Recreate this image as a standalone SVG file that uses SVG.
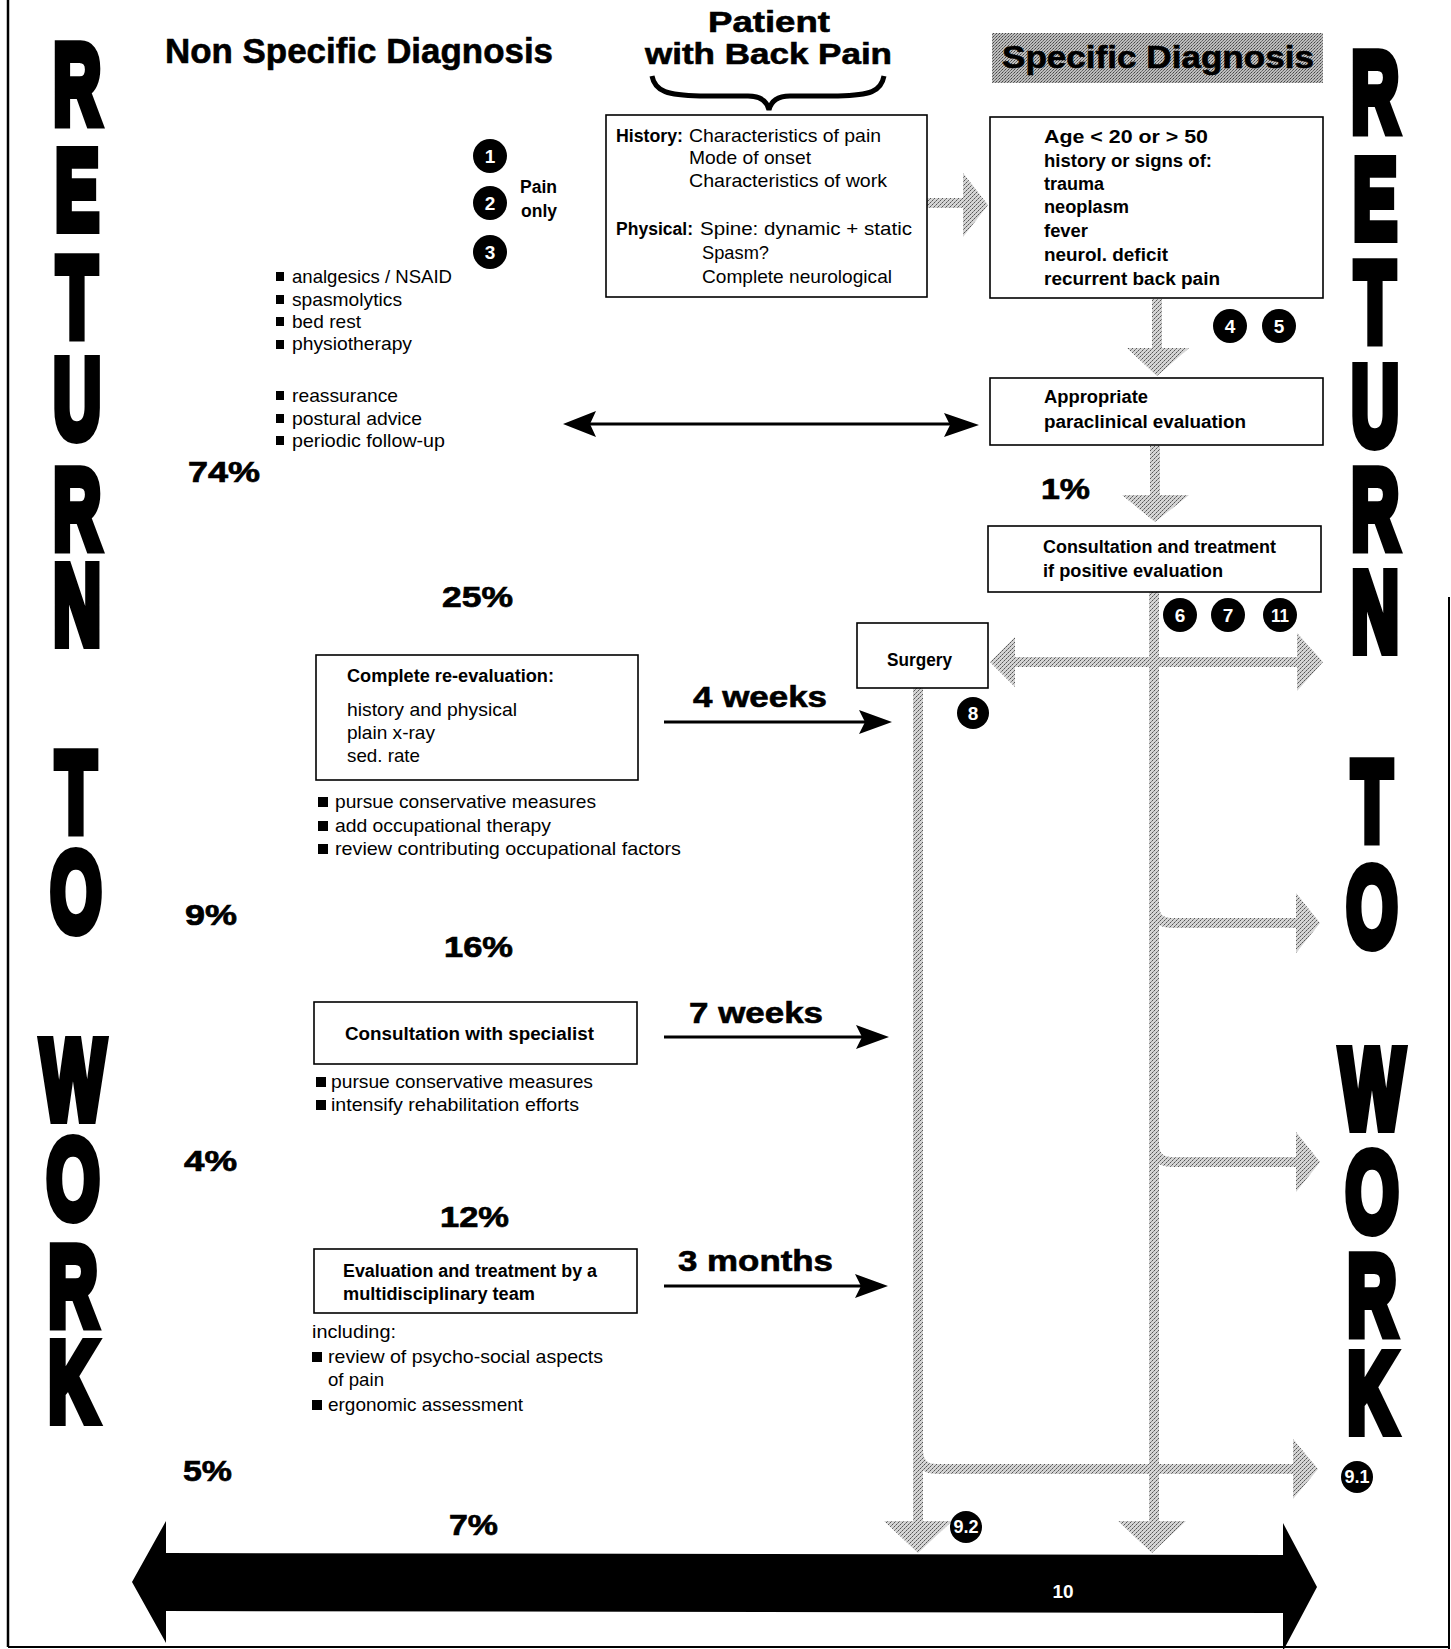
<svg xmlns="http://www.w3.org/2000/svg" width="1451" height="1649" viewBox="0 0 1451 1649">
<defs>
<pattern id="stip" width="4" height="4" patternUnits="userSpaceOnUse">
<rect width="4" height="4" fill="#d4d4d4"/>
<rect x="0" y="0" width="1" height="1" fill="#555"/>
<rect x="2" y="2" width="1" height="1" fill="#555"/>
<rect x="1" y="3" width="1" height="1" fill="#888"/>
<rect x="3" y="1" width="1" height="1" fill="#888"/>
</pattern>
<pattern id="stipd" width="3" height="3" patternUnits="userSpaceOnUse">
<rect width="3" height="3" fill="#bdbdbd"/>
<rect x="0" y="0" width="1" height="1" fill="#444"/>
<rect x="2" y="1" width="1" height="1" fill="#666"/>
<rect x="1" y="2" width="1" height="1" fill="#777"/>
</pattern>
<style>
.bigv{font-family:"Liberation Sans",Arial,sans-serif;font-weight:bold;font-size:114px;fill:#000;stroke:#000;stroke-width:10;stroke-linejoin:miter;writing-mode:vertical-rl;text-orientation:upright}
.hd{font-family:"Liberation Sans",Arial,sans-serif;font-weight:bold;fill:#000;stroke:#000;stroke-width:0.6}
.pct{font-family:"Liberation Sans",Arial,sans-serif;font-weight:bold;font-size:30px;fill:#000;stroke:#000;stroke-width:0.7}
.cn{font-family:"Liberation Sans Narrow","Liberation Sans",Arial,sans-serif;font-size:19px;fill:#000}
.cnb{font-family:"Liberation Sans Narrow","Liberation Sans",Arial,sans-serif;font-size:18px;font-weight:bold;fill:#000}
.box{fill:#fff;stroke:#000;stroke-width:1.6}
.num{font-family:"Liberation Sans",Arial,sans-serif;font-weight:bold;font-size:19px;fill:#fff;text-anchor:middle}
.gs{fill:none;stroke:url(#stip);stroke-width:10}
.gh{fill:url(#stip)}
.ar{fill:none;stroke:#000;stroke-width:3}
</style>
</defs>
<rect width="1451" height="1649" fill="#fff"/>

<!-- frame -->
<g id="frame" stroke="#000" fill="none">
<line x1="8" y1="0" x2="8" y2="1647" stroke-width="2.5"/>
<line x1="8" y1="1647" x2="1449" y2="1647" stroke-width="2"/>
<line x1="1449" y1="597" x2="1449" y2="1649" stroke-width="2"/>
</g>

<!-- RETURN TO WORK left -->
<g id="rtw-left">
<text class="bigv" transform="translate(77,0) scale(0.58,1)" x="0" y="21 126 233 335 446 541">RETURN</text>
<text class="bigv" transform="translate(76,0) scale(0.58,1)" x="0" y="728 828">TO</text>
<text class="bigv" transform="translate(73,0) scale(0.6,1)" x="0" y="1016 1115 1223 1318">WORK</text>
</g>

<!-- RETURN TO WORK right -->
<g id="rtw-right">
<text class="bigv" transform="translate(1375,0) scale(0.58,1)" x="0" y="29 135 238 342 446 548">RETURN</text>
<text class="bigv" transform="translate(1372,0) scale(0.58,1)" x="0" y="737 843">TO</text>
<text class="bigv" transform="translate(1372,0) scale(0.6,1)" x="0" y="1025 1128 1232 1329">WORK</text>
</g>

<!-- titles -->
<g id="title-nonspecific">
<text class="hd" x="165" y="63" font-size="35" textLength="388" lengthAdjust="spacingAndGlyphs">Non Specific Diagnosis</text>
</g>
<g id="title-patient">
<text class="hd" x="708" y="32" font-size="29" textLength="122" lengthAdjust="spacingAndGlyphs">Patient</text>
<text class="hd" x="645" y="64" font-size="29" textLength="247" lengthAdjust="spacingAndGlyphs">with Back Pain</text>
<path d="M652,76 C655,92 668,95 700,96 L748,96 C761,96 767,101 769,110 C771,101 777,96 790,96 L838,96 C870,95 881,92 884,76" fill="none" stroke="#000" stroke-width="5"/>
</g>
<g id="title-specific">
<rect x="992" y="33" width="331" height="50" fill="url(#stipd)"/>
<text class="hd" x="1002" y="68" font-size="31" textLength="312" lengthAdjust="spacingAndGlyphs" stroke="#fff" stroke-width="3" paint-order="stroke">Specific Diagnosis</text>
</g>

<!-- connectors -->
<g id="connectors">
<path class="gs" d="M927,203 H966" stroke-width="12"/>
<polygon class="gh" points="988,205 963,173 963,237"/>
<path class="gs" d="M1157,299 V350"/>
<polygon class="gh" points="1157,376 1127,348 1189,348"/>
<path class="gs" d="M1155,446 V497"/>
<polygon class="gh" points="1155,522 1122,495 1189,495"/>
<path class="gs" d="M1154,592 V1523"/>
<polygon class="gh" points="1152,1553 1118,1521 1186,1521"/>
<path class="gs" d="M1013,662 H1299"/>
<polygon class="gh" points="990,662 1015,637 1015,687"/>
<polygon class="gh" points="1323,662 1297,633 1297,691"/>
<path class="gs" d="M1154,905 Q1154,923 1172,923 H1298"/>
<polygon class="gh" points="1320,923 1296,893 1296,953"/>
<path class="gs" d="M1154,1144 Q1154,1162 1172,1162 H1298"/>
<polygon class="gh" points="1320,1162 1296,1132 1296,1192"/>
<path class="gs" d="M918,688 V1523"/>
<polygon class="gh" points="918,1553 884,1521 952,1521"/>
<path class="gs" d="M918,1450 Q918,1469 937,1469 H1295"/>
<polygon class="gh" points="1318,1469 1293,1439 1293,1499"/>
<path class="ar" d="M590,424 H950" stroke-width="4"/>
<polygon points="563,424 596,411 590,424 596,437"/>
<polygon points="979,425 944,413 950,425 944,437"/>
<path class="ar" d="M664,722 H868"/>
<polygon points="892,722 859,710 865,722 859,734"/>
<path class="ar" d="M664,1037 H866"/>
<polygon points="889,1037 856,1025 862,1037 856,1049"/>
<path class="ar" d="M664,1286 H865"/>
<polygon points="888,1286 855,1274 861,1286 855,1298"/>
<polygon points="132,1582 166,1521 166,1553 1283,1555 1283,1523 1317,1587 1283,1651 1283,1613 166,1611 166,1643"/>
<text x="1063" y="1598" font-family="Liberation Sans, Arial, sans-serif" font-weight="bold" font-size="19" fill="#fff" text-anchor="middle">10</text>
</g>

<!-- timeline labels -->
<g id="durations">
<text class="hd" x="693" y="707" font-size="29" textLength="134" lengthAdjust="spacingAndGlyphs">4 weeks</text>
<text class="hd" x="689" y="1023" font-size="29" textLength="134" lengthAdjust="spacingAndGlyphs">7 weeks</text>
<text class="hd" x="678" y="1271" font-size="29" textLength="155" lengthAdjust="spacingAndGlyphs">3 months</text>
</g>

<g id="percentages">
<text class="pct" x="188" y="482" textLength="72" lengthAdjust="spacingAndGlyphs">74%</text>
<text class="pct" x="442" y="607" textLength="71" lengthAdjust="spacingAndGlyphs">25%</text>
<text class="pct" x="185" y="925" textLength="52" lengthAdjust="spacingAndGlyphs">9%</text>
<text class="pct" x="444" y="957" textLength="69" lengthAdjust="spacingAndGlyphs">16%</text>
<text class="pct" x="184" y="1171" textLength="53" lengthAdjust="spacingAndGlyphs">4%</text>
<text class="pct" x="440" y="1227" textLength="69" lengthAdjust="spacingAndGlyphs">12%</text>
<text class="pct" x="183" y="1481" textLength="49" lengthAdjust="spacingAndGlyphs">5%</text>
<text class="pct" x="449" y="1535" textLength="49" lengthAdjust="spacingAndGlyphs">7%</text>
<text class="pct" x="1041" y="499" textLength="49" lengthAdjust="spacingAndGlyphs">1%</text>
</g>

<!-- numbered markers -->
<g id="markers">
<circle cx="490" cy="156" r="17"/><text class="num" x="490" y="163">1</text>
<circle cx="490" cy="203" r="17"/><text class="num" x="490" y="210">2</text>
<circle cx="490" cy="252" r="17"/><text class="num" x="490" y="259">3</text>
<circle cx="1230" cy="326" r="17"/><text class="num" x="1230" y="333">4</text>
<circle cx="1279" cy="326" r="17"/><text class="num" x="1279" y="333">5</text>
<circle cx="1180" cy="615" r="17"/><text class="num" x="1180" y="622">6</text>
<circle cx="1228" cy="615" r="17"/><text class="num" x="1228" y="622">7</text>
<circle cx="1280" cy="615" r="17"/><text class="num" x="1280" y="622" textLength="18" lengthAdjust="spacingAndGlyphs">11</text>
<circle cx="973" cy="713" r="16"/><text class="num" x="973" y="720">8</text>
<circle cx="966" cy="1527" r="16"/><text class="num" x="966" y="1533" font-size="16" textLength="25" lengthAdjust="spacingAndGlyphs">9.2</text>
<circle cx="1357" cy="1477" r="16"/><text class="num" x="1357" y="1483" font-size="16" textLength="25" lengthAdjust="spacingAndGlyphs">9.1</text>
</g>

<g id="pain-only">
<text class="cnb" x="520" y="193" textLength="37" lengthAdjust="spacingAndGlyphs">Pain</text>
<text class="cnb" x="521" y="217" textLength="36" lengthAdjust="spacingAndGlyphs">only</text>
</g>

<g id="initial-measures">
<rect x="276" y="272" width="8" height="9"/><text class="cn" x="292" y="283" textLength="160" lengthAdjust="spacingAndGlyphs">analgesics / NSAID</text>
<rect x="276" y="295" width="8" height="9"/><text class="cn" x="292" y="306" textLength="110" lengthAdjust="spacingAndGlyphs">spasmolytics</text>
<rect x="276" y="317" width="8" height="9"/><text class="cn" x="292" y="328" textLength="69" lengthAdjust="spacingAndGlyphs">bed rest</text>
<rect x="276" y="340" width="8" height="9"/><text class="cn" x="292" y="350" textLength="120" lengthAdjust="spacingAndGlyphs">physiotherapy</text>
<rect x="276" y="391" width="8" height="9"/><text class="cn" x="292" y="402" textLength="106" lengthAdjust="spacingAndGlyphs">reassurance</text>
<rect x="276" y="414" width="8" height="9"/><text class="cn" x="292" y="425" textLength="130" lengthAdjust="spacingAndGlyphs">postural advice</text>
<rect x="276" y="436" width="8" height="9"/><text class="cn" x="292" y="447" textLength="153" lengthAdjust="spacingAndGlyphs">periodic follow-up</text>
</g>

<g id="history-box">
<rect class="box" x="606" y="115" width="321" height="182"/>
<text class="cnb" x="616" y="142" textLength="67" lengthAdjust="spacingAndGlyphs">History:</text>
<text class="cn" x="689" y="142" textLength="192" lengthAdjust="spacingAndGlyphs">Characteristics of pain</text>
<text class="cn" x="689" y="164" textLength="122" lengthAdjust="spacingAndGlyphs">Mode of onset</text>
<text class="cn" x="689" y="187" textLength="198" lengthAdjust="spacingAndGlyphs">Characteristics of work</text>
<text class="cnb" x="616" y="235" textLength="77" lengthAdjust="spacingAndGlyphs">Physical:</text>
<text class="cn" x="700" y="235" textLength="212" lengthAdjust="spacingAndGlyphs">Spine: dynamic + static</text>
<text class="cn" x="702" y="259" textLength="67" lengthAdjust="spacingAndGlyphs">Spasm?</text>
<text class="cn" x="702" y="283" textLength="190" lengthAdjust="spacingAndGlyphs">Complete neurological</text>
</g>

<g id="specific-box">
<rect class="box" x="990" y="117" width="333" height="181"/>
<text class="cnb" x="1044" y="143" textLength="164" lengthAdjust="spacingAndGlyphs">Age &lt; 20 or &gt; 50</text>
<text class="cnb" x="1044" y="167" textLength="168" lengthAdjust="spacingAndGlyphs">history or signs of:</text>
<text class="cnb" x="1044" y="190" textLength="60" lengthAdjust="spacingAndGlyphs">trauma</text>
<text class="cnb" x="1044" y="213" textLength="85" lengthAdjust="spacingAndGlyphs">neoplasm</text>
<text class="cnb" x="1044" y="237" textLength="44" lengthAdjust="spacingAndGlyphs">fever</text>
<text class="cnb" x="1044" y="261" textLength="124" lengthAdjust="spacingAndGlyphs">neurol. deficit</text>
<text class="cnb" x="1044" y="285" textLength="176" lengthAdjust="spacingAndGlyphs">recurrent back pain</text>
</g>

<g id="paraclinical-box">
<rect class="box" x="990" y="378" width="333" height="67"/>
<text class="cnb" x="1044" y="403" textLength="104" lengthAdjust="spacingAndGlyphs">Appropriate</text>
<text class="cnb" x="1044" y="428" textLength="202" lengthAdjust="spacingAndGlyphs">paraclinical evaluation</text>
</g>

<g id="consult-treat-box">
<rect class="box" x="988" y="526" width="333" height="66"/>
<text class="cnb" x="1043" y="553" textLength="233" lengthAdjust="spacingAndGlyphs">Consultation and treatment</text>
<text class="cnb" x="1043" y="577" textLength="180" lengthAdjust="spacingAndGlyphs">if positive evaluation</text>
</g>

<g id="surgery-box">
<rect class="box" x="857" y="623" width="131" height="65"/>
<text class="cnb" x="887" y="666" textLength="65" lengthAdjust="spacingAndGlyphs">Surgery</text>
</g>

<g id="reevaluation-box">
<rect class="box" x="316" y="655" width="322" height="125"/>
<text class="cnb" x="347" y="682" textLength="207" lengthAdjust="spacingAndGlyphs">Complete re-evaluation:</text>
<text class="cn" x="347" y="716" textLength="170" lengthAdjust="spacingAndGlyphs">history and physical</text>
<text class="cn" x="347" y="739" textLength="88" lengthAdjust="spacingAndGlyphs">plain x-ray</text>
<text class="cn" x="347" y="762" textLength="73" lengthAdjust="spacingAndGlyphs">sed. rate</text>
</g>
<g id="reevaluation-measures">
<rect x="318" y="797" width="10" height="10"/><text class="cn" x="335" y="808" textLength="261" lengthAdjust="spacingAndGlyphs">pursue conservative measures</text>
<rect x="318" y="821" width="10" height="10"/><text class="cn" x="335" y="832" textLength="216" lengthAdjust="spacingAndGlyphs">add occupational therapy</text>
<rect x="318" y="844" width="10" height="10"/><text class="cn" x="335" y="855" textLength="346" lengthAdjust="spacingAndGlyphs">review contributing occupational factors</text>
</g>

<g id="specialist-box">
<rect class="box" x="314" y="1002" width="323" height="62"/>
<text class="cnb" x="345" y="1040" textLength="249" lengthAdjust="spacingAndGlyphs">Consultation with specialist</text>
</g>
<g id="specialist-measures">
<rect x="316" y="1077" width="10" height="10"/><text class="cn" x="331" y="1088" textLength="262" lengthAdjust="spacingAndGlyphs">pursue conservative measures</text>
<rect x="316" y="1100" width="10" height="10"/><text class="cn" x="331" y="1111" textLength="248" lengthAdjust="spacingAndGlyphs">intensify rehabilitation efforts</text>
</g>

<g id="multidisciplinary-box">
<rect class="box" x="314" y="1249" width="323" height="64"/>
<text class="cnb" x="343" y="1277" textLength="254" lengthAdjust="spacingAndGlyphs">Evaluation and treatment by a</text>
<text class="cnb" x="343" y="1300" textLength="192" lengthAdjust="spacingAndGlyphs">multidisciplinary team</text>
</g>
<g id="multidisciplinary-measures">
<text class="cn" x="312" y="1338" textLength="84" lengthAdjust="spacingAndGlyphs">including:</text>
<rect x="312" y="1352" width="10" height="10"/><text class="cn" x="328" y="1363" textLength="275" lengthAdjust="spacingAndGlyphs">review of psycho-social aspects</text>
<text class="cn" x="328" y="1386" textLength="56" lengthAdjust="spacingAndGlyphs">of pain</text>
<rect x="312" y="1400" width="10" height="10"/><text class="cn" x="328" y="1411" textLength="195" lengthAdjust="spacingAndGlyphs">ergonomic assessment</text>
</g>
</svg>
